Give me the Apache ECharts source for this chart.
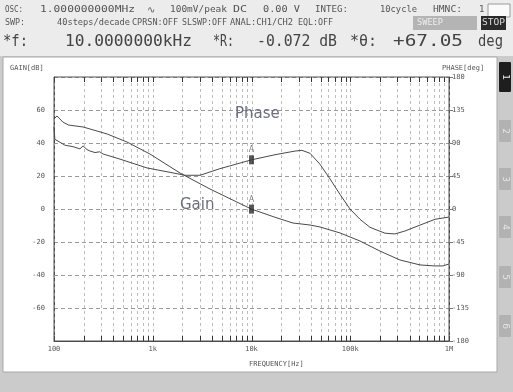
<!DOCTYPE html>
<html>
<head>
<meta charset="utf-8">
<script src="https://cdn.jsdelivr.net/npm/echarts@6/dist/echarts.min.js"></script>
<style>
  html, body { margin: 0; padding: 0; background: #cbcbcb; }
  #chart { width: 513px; height: 392px; }
</style>
</head>
<body>
<div id="chart"></div>
<script>
// Gain sweep (Hz, dB)
const gainFreq = [100, 107, 123, 140, 197, 344, 548, 938, 1888, 3800, 10000, 17300, 26300, 39100, 49400, 78700, 125500, 200000, 319000, 508000, 711000, 869000, 1000000];
const gainDb   = [54.5, 56.4, 52.7, 50.9, 49.7, 45.5, 40.6, 33.3, 21.8, 12.1, -0.072, -5.0, -8.5, -9.7, -10.9, -14.5, -19.4, -25.5, -30.9, -33.9, -34.5, -34.5, -33.3];

// Phase sweep (Hz, deg)
const phaseFreq = [100, 102, 115, 129, 156, 183, 197, 216, 232, 260, 290, 314, 466, 874, 1496, 2122, 3008, 4797, 10000, 17300, 27550, 32400, 39100, 49400, 62400, 78700, 99400, 125500, 158500, 224700, 283600, 358000, 508000, 721000, 1000000];
const phaseDeg  = [112, 95, 91, 87, 85, 82, 86, 81, 79, 77, 78, 75, 68, 56, 50, 46, 46, 55, 67.05, 74, 79, 80, 76, 61, 41, 20, 0, -14, -25, -33, -34, -30, -22, -14, -11];

// Cursor readout at marker A
const markerFreq = 10000;
const markerGain = -0.072;
const markerPhase = 67.05;

// Axis ticks
const gainTicks = [-80, -60, -40, -20, 0, 20, 40, 60, 80];
const phaseTicks = [-180, -135, -90, -45, 0, 45, 90, 135, 180];
const freqLabels = { 100: '100', 1000: '1k', 10000: '10k', 100000: '100k', 1000000: '1M' };
const decades = [100, 1000, 10000, 100000];

// log-grid positions: 1..9 within each decade, plus the last decade line
const gridFreqs = [];
decades.forEach(d => { for (let k = 1; k <= 9; k++) gridFreqs.push(d * k); });
gridFreqs.push(1000000);

const MONO = "'DejaVu Sans Mono', monospace";
const SANS = "'DejaVu Sans', sans-serif";

const chart = echarts.init(document.getElementById('chart'), null, { renderer: 'canvas' });

// Monospace text stretched horizontally to span [x0, x1]
function fit(x0, x1, y, s, size, color) {
  const natural = s.length * 0.602 * size;
  return {
    type: 'text', x: x0, y: y, z: 5, scaleX: (x1 - x0) / natural, scaleY: 1,
    style: { text: s, fill: color || '#555', font: size + 'px ' + MONO, textVerticalAlign: 'middle' }
  };
}
function txt(x, y, s, size, color) {
  return {
    type: 'text', x: x, y: y, z: 5,
    style: { text: s, fill: color || '#555', font: size + 'px ' + MONO, textVerticalAlign: 'middle' }
  };
}

const tabs = [[62, 92, '1', true], [120, 142, '2'], [168, 190, '3'], [216, 238, '4'], [266, 288, '5'], [315, 337, '6']];

const L1 = 10, L2 = 22.5, L3 = 42;
const graphics = [
  // header strip
  { type: 'rect', shape: { x: 0, y: 0, width: 513, height: 56 }, style: { fill: '#ececec' }, z: 0 },
  // white plot panel
  { type: 'rect', shape: { x: 3, y: 57, width: 494, height: 315 }, style: { fill: '#ffffff', stroke: '#a8a8a8', lineWidth: 1 }, z: 0, silent: true },
  // status line 1
  fit(5, 23, L1, 'OSC:', 9),
  fit(40, 135, L1, '1.000000000MHz', 9),
  txt(147, L1, '\u223F', 10),
  fit(170, 227, L1, '100mV/peak', 9),
  fit(233, 247, L1, 'DC', 9),
  fit(263, 300, L1, '0.00 V', 9),
  fit(315, 348, L1, 'INTEG:', 9),
  fit(380, 417, L1, '10cycle', 9),
  fit(433, 462, L1, 'HMNC:', 9),
  txt(479, L1, '1', 9),
  { type: 'rect', shape: { x: 488, y: 4, width: 22, height: 13 }, style: { fill: '#fafafa', stroke: '#9a9a9a' }, z: 4 },
  // status line 2
  fit(5, 25, L2, 'SWP:', 9),
  fit(57, 130, L2, '40steps/decade', 9),
  fit(132, 178, L2, 'CPRSN:OFF', 9),
  fit(182, 227, L2, 'SLSWP:OFF', 9),
  fit(230, 293, L2, 'ANAL:CH1/CH2', 9),
  fit(298, 333, L2, 'EQL:OFF', 9),
  { type: 'rect', shape: { x: 413, y: 16, width: 64, height: 14 }, style: { fill: '#b4b4b4' }, z: 4 },
  fit(417, 443, L2 + 0.5, 'SWEEP', 9, '#eeeeee'),
  { type: 'rect', shape: { x: 481, y: 16, width: 25, height: 14 }, style: { fill: '#2a2a2a' }, z: 4 },
  fit(482, 505, L2 + 0.5, 'STOP', 9, '#dddddd'),
  // cursor readout line
  fit(3, 28, L3, '*f:', 15, '#444'),
  fit(65, 192, L3, '10.0000000kHz', 15, '#444'),
  fit(213, 234, L3, '*R:', 15, '#444'),
  fit(257, 337, L3, '-0.072 dB', 15, '#444'),
  fit(350, 377, L3, '*\u03B8:', 15, '#444'),
  fit(393, 463, L3, '+67.05', 15, '#444'),
  fit(478, 503, L3, 'deg', 15, '#444'),
  // axis titles
  txt(10, 68, 'GAIN[dB]', 7, '#555'),
  txt(442, 68, 'PHASE[deg]', 7, '#555'),
  txt(249, 364, 'FREQUENCY[Hz]', 7, '#555'),
  // trace names
  { type: 'text', x: 235, y: 114, z: 6, style: { text: 'Phase', fill: '#6a6e7e', font: '15px ' + SANS, textVerticalAlign: 'middle' } },
  { type: 'text', x: 180, y: 205, z: 6, style: { text: 'Gain', fill: '#6a6e7e', font: '15px ' + SANS, textVerticalAlign: 'middle' } }
];

tabs.forEach(t => {
  graphics.push({ type: 'rect', shape: { x: 499, y: t[0], width: 12, height: t[1] - t[0], r: 1 }, style: { fill: t[3] ? '#1e1e1e' : '#b2b2b2' }, z: 4 });
  graphics.push({
    type: 'text', x: 505, y: (t[0] + t[1]) / 2, rotation: -Math.PI / 2, z: 5,
    style: { text: t[2], fill: t[3] ? '#eeeeee' : '#e6e6e6', font: '9px ' + SANS, textAlign: 'center', textVerticalAlign: 'middle' }
  });
});

const option = {
  animation: false,
  backgroundColor: '#cbcbcb',
  graphic: graphics,
  grid: { left: 54, right: 64, top: 77, bottom: 51, show: true, borderColor: '#555', borderWidth: 1, backgroundColor: 'transparent', z: 3 },
  xAxis: {
    type: 'log', logBase: 10, min: 100, max: 1000000,
    axisLine: { show: true, onZero: false, lineStyle: { color: '#444' } },
    axisTick: { show: false },
    splitLine: { show: false },
    axisLabel: {
      margin: 5, fontSize: 7, color: '#555', fontFamily: MONO,
      formatter: v => freqLabels[Math.round(v)] || ''
    }
  },
  yAxis: [
    {
      type: 'value', min: gainTicks[0], max: gainTicks[gainTicks.length - 1], interval: 20,
      axisLine: { show: true, onZero: false, lineStyle: { color: '#444' } },
      axisTick: { show: false },
      splitLine: { show: true, lineStyle: { color: '#9a9a9a', type: [4, 3], width: 1 } },
      axisLabel: {
        margin: 9, fontSize: 7, color: '#555', fontFamily: MONO,
        formatter: v => (v === 80 || v === -80) ? '' : String(v)
      }
    },
    {
      type: 'value', min: phaseTicks[0], max: phaseTicks[phaseTicks.length - 1], interval: 45,
      axisLine: { show: true, onZero: false, lineStyle: { color: '#444' } },
      axisTick: { show: true, inside: false, length: 4, lineStyle: { color: '#777' } },
      splitLine: { show: false },
      axisLabel: { margin: 3, fontSize: 7, color: '#555', fontFamily: MONO }
    }
  ],
  series: [
    {
      // log frequency grid with edge ticks
      type: 'custom', xAxisIndex: 0, yAxisIndex: 0, silent: true, z: 1,
      data: gridFreqs.map(f => [f]),
      encode: { x: 0 },
      renderItem: (params, api) => {
        const f = api.value(0);
        const top = api.coord([f, gainTicks[gainTicks.length - 1]]);
        const bot = api.coord([f, gainTicks[0]]);
        const x = Math.round(top[0]) + 0.5;
        return {
          type: 'group',
          children: [
            { type: 'line', shape: { x1: x, y1: top[1], x2: x, y2: bot[1] }, style: { stroke: '#bdbdbd', lineWidth: 1, lineDash: [3, 3] } },
            { type: 'line', shape: { x1: x, y1: top[1], x2: x, y2: top[1] + 5 }, style: { stroke: '#333', lineWidth: 1 } },
            { type: 'line', shape: { x1: x, y1: bot[1], x2: x, y2: bot[1] - 5 }, style: { stroke: '#333', lineWidth: 1 } }
          ]
        };
      }
    },
    {
      name: 'Gain', type: 'line', xAxisIndex: 0, yAxisIndex: 0, z: 4,
      data: gainFreq.map((f, i) => [f, gainDb[i]]),
      showSymbol: false, symbol: 'none',
      lineStyle: { color: '#4a4a4a', width: 1 }
    },
    {
      name: 'Phase', type: 'line', xAxisIndex: 0, yAxisIndex: 1, z: 4,
      data: phaseFreq.map((f, i) => [f, phaseDeg[i]]),
      showSymbol: false, symbol: 'none',
      lineStyle: { color: '#4a4a4a', width: 1 }
    },
    {
      type: 'scatter', xAxisIndex: 0, yAxisIndex: 0, z: 5,
      data: [[markerFreq, markerGain]],
      symbol: 'rect', symbolSize: [5, 9],
      itemStyle: { color: '#2e2e2e' },
      label: { show: true, position: 'top', distance: 1, formatter: 'A', fontSize: 8, color: '#666', fontFamily: SANS }
    },
    {
      type: 'scatter', xAxisIndex: 0, yAxisIndex: 1, z: 5,
      data: [[markerFreq, markerPhase]],
      symbol: 'rect', symbolSize: [5, 9],
      itemStyle: { color: '#2e2e2e' },
      label: { show: true, position: 'top', distance: 1, formatter: 'A', fontSize: 8, color: '#666', fontFamily: SANS }
    }
  ]
};

chart.setOption(option);
</script>
</body>
</html>
